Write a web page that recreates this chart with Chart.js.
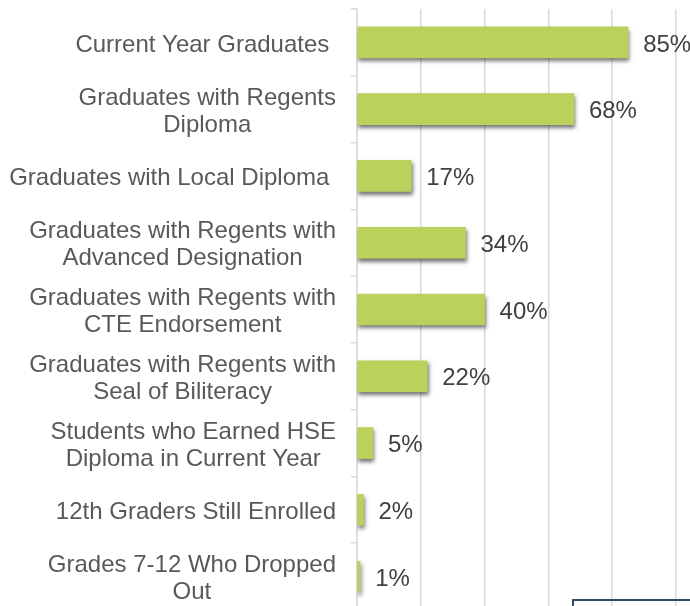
<!DOCTYPE html>
<html>
<head>
<meta charset="utf-8">
<script src="https://cdn.jsdelivr.net/npm/chart.js@4"></script>
<style>
  html, body { margin: 0; padding: 0; background: #ffffff; overflow: hidden; }
  #wrap { position: relative; width: 690px; height: 606px; overflow: hidden; }
  #box { position: absolute; left: 572px; top: 599px; width: 130px; height: 20px; border: 2px solid #2e4d6e; }
</style>
</head>
<body>
<div id="wrap">
  <canvas id="c" width="690" height="610" style="width:690px;height:610px;display:block"></canvas>
  <div id="box"></div>
</div>
<script>
// Categories (line-broken as in the reference)
const categories = [
  ["Current Year Graduates "],
  ["Graduates with Regents", "Diploma"],
  ["Graduates with Local Diploma "],
  ["Graduates with Regents with", "Advanced Designation"],
  ["Graduates with Regents with", "CTE Endorsement"],
  ["Graduates with Regents with", "Seal of Biliteracy"],
  ["Students who Earned HSE", "Diploma in Current Year"],
  ["12th Graders Still Enrolled"],
  ["Grades 7-12 Who Dropped", "Out"]
];
const values = [85, 68, 17, 34, 40, 22, 5, 2, 1];
const xTicks = [0, 20, 40, 60, 80, 100];

const FONT = '24px "Liberation Sans", Arial, sans-serif';

const shadowPlugin = {
  id: 'barShadow',
  beforeDatasetsDraw(chart) {
    const ctx = chart.ctx;
    ctx.save();
    ctx.shadowColor = 'rgba(0,0,0,0.55)';
    ctx.shadowBlur = 4;
    ctx.shadowOffsetX = 1;
    ctx.shadowOffsetY = 3;
  },
  afterDatasetsDraw(chart) {
    chart.ctx.restore();
  }
};

const labelsPlugin = {
  id: 'labels',
  afterDraw(chart) {
    const ctx = chart.ctx;
    const yScale = chart.scales.y;
    ctx.save();
    ctx.font = FONT;
    ctx.textBaseline = 'middle';
    // category labels
    ctx.fillStyle = '#595959';
    ctx.textAlign = 'center';
    const right = chart.chartArea.left - 21;
    const lh = 27;
    categories.forEach((lines, i) => {
      const yc = yScale.getPixelForValue(i) + 2.5;
      let maxW = 0;
      lines.forEach(l => { maxW = Math.max(maxW, ctx.measureText(l).width); });
      const cx = right - maxW / 2;
      const y0 = yc - (lines.length - 1) * lh / 2;
      lines.forEach((l, k) => {
        ctx.fillText(l, cx, y0 + k * lh);
      });
    });
    // value labels
    ctx.fillStyle = '#404040';
    ctx.textAlign = 'left';
    const meta = chart.getDatasetMeta(0);
    meta.data.forEach((bar, i) => {
      ctx.fillText(values[i] + '%', bar.x + 15, bar.y + 2.5);
    });
    ctx.restore();
  }
};

new Chart(document.getElementById('c'), {
  type: 'bar',
  data: {
    labels: categories,
    datasets: [{
      data: values,
      backgroundColor: '#bad25b',
      borderWidth: 0,
      barThickness: 31
    }]
  },
  options: {
    indexAxis: 'y',
    responsive: false,
    animation: false,
    devicePixelRatio: 1,
    layout: { padding: { top: 9, right: 14, bottom: 0, left: 0 } },
    plugins: { legend: { display: false }, tooltip: { enabled: false } },
    scales: {
      x: {
        min: 0,
        max: 100,
        afterBuildTicks(scale) { scale.ticks = xTicks.map(v => ({ value: v })); },
        afterFit(scale) { scale.height = 0; },
        ticks: { display: false },
        grid: { color: '#d9d9d9', lineWidth: 1.5, drawTicks: false },
        border: { display: false }
      },
      y: {
        afterFit(scale) { scale.width = 357; },
        ticks: { display: false },
        grid: { drawOnChartArea: false, drawTicks: true, tickLength: 6, color: '#d9d9d9', lineWidth: 1.5, offset: true },
        border: { display: true, color: '#d9d9d9', width: 1.5 }
      }
    }
  },
  plugins: [shadowPlugin, labelsPlugin]
});
</script>
</body>
</html>
